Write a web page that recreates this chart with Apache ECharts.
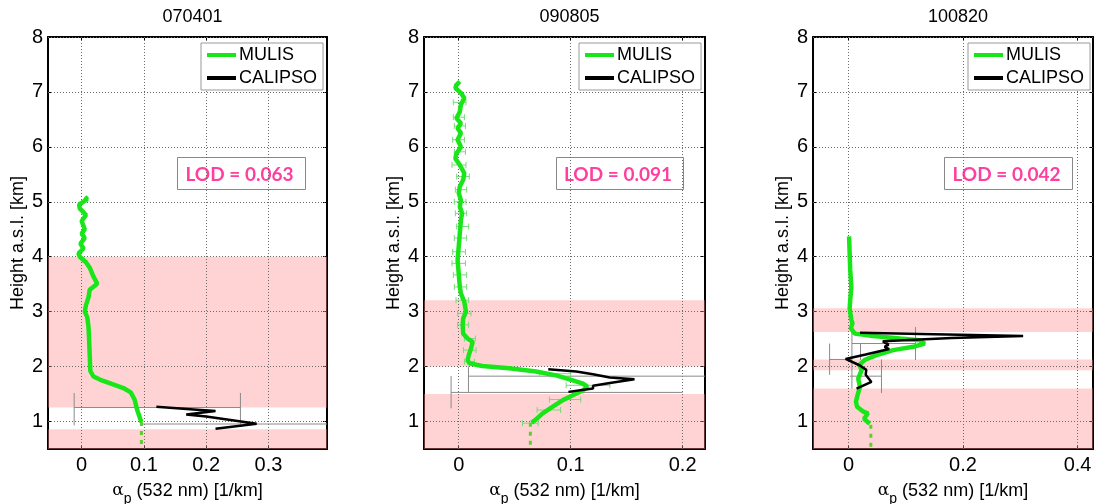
<!DOCTYPE html>
<html><head><meta charset="utf-8">
<script src="https://cdn.jsdelivr.net/npm/echarts@6/dist/echarts.min.js"></script>
<style>html,body{margin:0;padding:0;background:#fff}#c{width:1096px;height:504px}</style>
</head><body><div id="c"></div>
<script>
// ---------------- DATA ----------------
const panelTitles = ['070401', '090805', '100820'];
const lodTexts = ['LOD = 0.063', 'LOD = 0.091', 'LOD = 0.042'];
const xRanges = [[-0.054, 0.394], [-0.031, 0.22], [-0.062, 0.427]];
const xTicks = [[0, 0.1, 0.2, 0.3], [0, 0.1, 0.2], [0, 0.2, 0.4]];
const yTicks = [1, 2, 3, 4, 5, 6, 7, 8];
const yRange = [0.5, 8];

// pink layer bands [bottom, top] in km
const bands1 = [[0.5, 0.86], [1.255, 4.0]];
const bands2 = [[0.5, 1.5], [2.0, 3.21]];
const bands3 = [[0.5, 1.6], [1.935, 2.13], [2.63, 3.06]];

// MULIS profiles [alpha, height]
const mulis1 = [[0.005,5.09],[0.009,5.05],[-0.004,4.95],[-0.003,4.88],[0.007,4.76],[0.000,4.65],[0.005,4.50],[0.000,4.42],[0.005,4.34],[-0.002,4.24],[0.003,4.15],[-0.005,4.06],[-0.003,4.0],[0.007,3.90],[0.013,3.80],[0.019,3.64],[0.025,3.51],[0.013,3.40],[0.011,3.26],[0.007,3.12],[0.005,3.0],[0.009,2.90],[0.011,2.73],[0.012,2.50],[0.013,2.20],[0.014,1.92],[0.019,1.82],[0.030,1.76],[0.045,1.70],[0.067,1.61],[0.079,1.53],[0.085,1.40],[0.089,1.22],[0.094,1.05],[0.096,0.99]];
const mulis2 = [[0.001,7.19],[-0.002,7.13],[-0.003,7.07],[0.002,6.98],[0.005,6.89],[0.002,6.77],[0.001,6.64],[-0.002,6.52],[0.002,6.43],[-0.001,6.34],[0.002,6.25],[-0.001,6.13],[0.002,6.0],[-0.002,5.88],[-0.003,5.79],[0.001,5.67],[0.005,5.52],[0.004,5.40],[0.001,5.28],[0.000,5.16],[0.002,5.03],[0.001,4.91],[0.003,4.79],[0.002,4.67],[0.001,4.43],[0.000,4.18],[-0.001,3.94],[0.000,3.70],[0.001,3.45],[0.002,3.33],[0.005,3.18],[0.0065,3.0],[0.004,2.88],[0.0035,2.76],[0.004,2.60],[0.008,2.51],[0.0125,2.45],[0.011,2.33],[0.009,2.21],[0.008,2.12],[0.0095,2.06],[0.021,2.01],[0.045,1.97],[0.069,1.91],[0.087,1.84],[0.102,1.75],[0.111,1.69],[0.115,1.63],[0.111,1.57],[0.102,1.48],[0.093,1.39],[0.084,1.27],[0.075,1.15],[0.068,1.02],[0.065,0.98]];
const mulis3 = [[0.001,4.37],[0.002,4.06],[0.003,3.76],[0.005,3.45],[0.003,3.21],[0.002,3.06],[0.005,2.85],[0.007,2.79],[0.004,2.70],[0.011,2.60],[0.043,2.555],[0.090,2.51],[0.124,2.48],[0.133,2.42],[0.113,2.36],[0.078,2.30],[0.049,2.21],[0.028,2.12],[0.019,2.03],[0.023,1.94],[0.017,1.78],[0.020,1.63],[0.015,1.45],[0.013,1.36],[0.015,1.27],[0.026,1.18],[0.034,1.15],[0.027,1.05],[0.037,0.96]];

// MULIS extrapolation below lowest range (dotted)
const mulisExt1 = [[0.096, 0.99], [0.096, 0.5]];
const mulisExt2 = [[0.064, 0.98], [0.064, 0.5]];
const mulisExt3 = [[0.039, 0.94], [0.039, 0.5]];

// MULIS horizontal error bars [height, low, high] (panel 2)
const mulisErr2 = [[6.81,-0.0048,0.0065],[6.54,-0.0048,0.0051],[6.38,-0.0039,0.006],[6.13,-0.0054,0.0051],[5.91,-0.0039,0.006],[5.67,-0.006,0.0065],[5.46,-0.0018,0.0095],[5.22,-0.003,0.0071],[5.0,-0.0039,0.0065],[4.79,-0.003,0.0071],[4.55,-0.0018,0.0089],[4.34,-0.0039,0.0071],[4.09,-0.0054,0.006],[3.88,-0.006,0.006],[3.67,-0.0048,0.0071],[3.45,-0.0039,0.0071],[3.21,-0.0024,0.0089],[2.97,-0.0009,0.011],[2.76,-0.0009,0.0089],[2.51,0.0051,0.0149],[2.30,0.0042,0.0155],[2.09,0.0051,0.014],[1.87,0.072,0.100],[1.66,0.096,0.135],[1.40,0.081,0.109],[1.21,0.070,0.091],[0.97,0.057,0.071]];

// CALIPSO profiles [alpha, height]
const calipso1 = [[0.120,1.27],[0.180,1.22],[0.215,1.19],[0.168,1.13],[0.200,1.09],[0.281,0.96],[0.215,0.87]];
const calipso2 = [[0.080,1.95],[0.105,1.91],[0.120,1.86],[0.135,1.80],[0.157,1.77],[0.135,1.70],[0.120,1.65],[0.120,1.60],[0.098,1.54]];
const calipso3 = [[0.020,2.615],[0.150,2.59],[0.305,2.555],[0.180,2.52],[0.060,2.46],[0.070,2.40],[0.063,2.36],[0.071,2.32],[0.030,2.22],[-0.005,2.14],[0.020,2.02],[0.031,1.94],[0.030,1.85],[0.040,1.72],[0.014,1.60]];

// CALIPSO error bars: horizontal [height, low, high], vertical [alpha, hLow, hHigh]
const calErrH1 = [[1.255,-0.012,0.255],[0.955,0.095,0.5]];
const calErrV1 = [[-0.012,0.93,1.52],[0.255,0.93,1.52]];
const calErrH2 = [[1.826,0.0087,0.5],[1.53,-0.0068,0.2]];
const calErrV2 = [[0.0087,1.54,2.0],[-0.0068,1.24,1.83]];
const calErrH3 = [[2.42,0.006,0.117],[2.13,-0.033,0.006],[1.826,0.0023,0.0576]];
const calErrV3 = [[0.117,2.12,2.72],[0.006,1.60,2.63],[0.021,2.12,2.42],[-0.033,1.85,2.42],[0.0576,1.52,2.13]];

// ---------------- LAYOUT / STYLE ----------------
const grids = [
  {left: 48, top: 37, width: 279, height: 412},
  {left: 424, top: 37, width: 281, height: 412},
  {left: 813, top: 37, width: 280, height: 412}
];
const legendLeft = [201, 579, 968];
const lodBox = [[177, 128], [556, 127], [944, 128]];
const FONT = 'Liberation Sans, Arial, sans-serif';
const GREEN = '#19e619';
const PINK_BAND = 'rgba(255,140,140,0.38)';

const allBands = [bands1, bands2, bands3];
const allMulis = [mulis1, mulis2, mulis3];
const allExt = [mulisExt1, mulisExt2, mulisExt3];
const allCal = [calipso1, calipso2, calipso3];
const allErrH = [calErrH1, calErrH2, calErrH3];
const allErrV = [calErrV1, calErrV2, calErrV3];
const allMulisErr = [[], mulisErr2, []];

function hBarRender(color, capPx) {
  return function (params, api) {
    const h = api.value(0), lo = api.value(1), hi = api.value(2);
    const a = api.coord([lo, h]), b = api.coord([hi, h]);
    const cs = params.coordSys;
    const xmin = cs.x, xmax = cs.x + cs.width;
    const x1 = Math.max(a[0], xmin), x2 = Math.min(b[0], xmax);
    const st = {stroke: color, lineWidth: 1};
    const ch = [{type: 'line', shape: {x1: x1, y1: a[1], x2: x2, y2: a[1]}, style: st}];
    if (capPx) {
      [a[0], b[0]].forEach(function (x) {
        if (x >= xmin && x <= xmax) ch.push({type: 'line', shape: {x1: x, y1: a[1] - capPx, x2: x, y2: a[1] + capPx}, style: st});
      });
    }
    return {type: 'group', children: ch};
  };
}
function vBarRender(color) {
  return function (params, api) {
    const x = api.value(0), lo = api.value(1), hi = api.value(2);
    const a = api.coord([x, lo]), b = api.coord([x, hi]);
    return {type: 'line', shape: {x1: a[0], y1: a[1], x2: b[0], y2: b[1]}, style: {stroke: color, lineWidth: 1}};
  };
}

const option = {
  animation: false,
  backgroundColor: '#fff',
  title: [], grid: [], xAxis: [], yAxis: [], legend: [], series: [], graphic: []
};

for (let i = 0; i < 3; i++) {
  const g = grids[i];
  option.grid.push(Object.assign({containLabel: false, outerBoundsMode: 'none'}, g));
  option.title.push({
    text: panelTitles[i], left: g.left + g.width / 2, top: 3, textAlign: 'center',
    textStyle: {fontFamily: FONT, fontSize: 18, fontWeight: 'normal', color: '#000'}
  });
  const xr = xRanges[i];
  // bottom x axis
  option.xAxis.push({
    type: 'value', gridIndex: i, min: xr[0], max: xr[1], position: 'bottom',
    axisLine: {show: true, onZero: false, lineStyle: {color: '#000', width: 2}},
    axisTick: {show: true, inside: true, length: 4, customValues: xTicks[i], lineStyle: {color: '#000'}},
    axisLabel: {show: true, customValues: xTicks[i], margin: 6, fontFamily: FONT, fontSize: 20, color: '#000'},
    splitLine: {show: false},
    name: '{a|α}{s|p} (532 nm) [1/km]', nameLocation: 'middle', nameGap: 27,
    nameTextStyle: {fontFamily: FONT, fontSize: 18, color: '#000',
      rich: {a: {fontFamily: 'DejaVu Serif', fontSize: 17, color: '#000'},
             s: {fontFamily: FONT, fontSize: 14, color: '#000', padding: [16, 0, 0, 0]}}}
  });
  // top x axis (frame)
  option.xAxis.push({
    type: 'value', gridIndex: i, min: xr[0], max: xr[1], position: 'top',
    axisLine: {show: true, onZero: false, lineStyle: {color: '#000', width: 2}},
    axisTick: {show: true, inside: true, length: 4, customValues: xTicks[i], lineStyle: {color: '#000'}},
    axisLabel: {show: false}, splitLine: {show: false}
  });
  option.yAxis.push({
    type: 'value', gridIndex: i, min: yRange[0], max: yRange[1], position: 'left',
    axisLine: {show: true, onZero: false, lineStyle: {color: '#000', width: 2}},
    axisTick: {show: true, inside: true, length: 4, customValues: yTicks, lineStyle: {color: '#000'}},
    axisLabel: {show: true, customValues: yTicks, margin: 5, fontFamily: FONT, fontSize: 20, color: '#000'},
    splitLine: {show: false},
    name: 'Height a.s.l. [km]', nameLocation: 'middle', nameRotate: 90, nameGap: 21,
    nameTextStyle: {fontFamily: FONT, fontSize: 18, color: '#000'}
  });
  option.yAxis.push({
    type: 'value', gridIndex: i, min: yRange[0], max: yRange[1], position: 'right',
    axisLine: {show: true, onZero: false, lineStyle: {color: '#000', width: 2}},
    axisTick: {show: true, inside: true, length: 4, customValues: yTicks, lineStyle: {color: '#000'}},
    axisLabel: {show: false}, splitLine: {show: false}
  });
  const xi = i * 2, yi = i * 2;
  option.legend.push({
    left: legendLeft[i], top: 43, orient: 'vertical',
    data: [{name: 'MULIS', icon: 'rect'}, {name: 'CALIPSO', icon: 'rect'}],
    itemWidth: 29, itemHeight: 4, itemGap: 5, padding: [3, 6, 3, 6],
    borderColor: '#999', borderWidth: 1, backgroundColor: '#fff', selectedMode: false,
    textStyle: {fontFamily: FONT, fontSize: 18, color: '#000', padding: [0, 0, 0, -2]}
  });
  // background bands + grid lines
  option.series.push({
    type: 'line', name: 'bands' + i, xAxisIndex: xi, yAxisIndex: yi, data: [], z: 1, silent: true,
    markArea: {silent: true, z: 1, itemStyle: {color: PINK_BAND},
      data: allBands[i].map(function (b) { return [{yAxis: b[0]}, {yAxis: b[1]}]; })},
    markLine: {silent: true, z: 1, symbol: ['none', 'none'], label: {show: false}, animation: false,
      lineStyle: {type: [1, 2], color: '#6a6a6a', width: 1},
      data: xTicks[i].map(function (v) { return {xAxis: v}; }).concat(yTicks.map(function (v) { return {yAxis: v}; }))}
  });
  // CALIPSO error bars
  option.series.push({
    type: 'custom', name: 'calErrH' + i, xAxisIndex: xi, yAxisIndex: yi, z: 2, silent: true,
    renderItem: hBarRender('#8a8a8a', 0), encode: {x: [1, 2], y: 0}, data: allErrH[i]
  });
  option.series.push({
    type: 'custom', name: 'calErrV' + i, xAxisIndex: xi, yAxisIndex: yi, z: 2, silent: true,
    renderItem: vBarRender('#8a8a8a'), encode: {x: 0, y: [1, 2]}, data: allErrV[i]
  });
  if (allMulisErr[i].length) {
    option.series.push({
      type: 'custom', name: 'mulisErr' + i, xAxisIndex: xi, yAxisIndex: yi, z: 3, silent: true,
      renderItem: hBarRender('#78da78', 3), encode: {x: [1, 2], y: 0}, data: allMulisErr[i]
    });
  }
  option.series.push({
    type: 'line', name: 'mulisExt' + i, xAxisIndex: xi, yAxisIndex: yi, z: 3, silent: true,
    data: allExt[i], symbol: 'none', lineStyle: {color: '#5ccf2e', width: 3, type: [4, 5]}
  });
  option.series.push({
    type: 'line', name: 'MULIS', xAxisIndex: xi, yAxisIndex: yi, z: 4, silent: true,
    data: allMulis[i], symbol: 'none', color: GREEN, lineStyle: {color: GREEN, width: 4.5}
  });
  option.series.push({
    type: 'line', name: 'CALIPSO', xAxisIndex: xi, yAxisIndex: yi, z: 5, silent: true,
    data: allCal[i], symbol: 'none', color: '#000', lineStyle: {color: '#000', width: 2.5}
  });
  // LOD annotation box
  const lb = lodBox[i];
  option.graphic.push({
    type: 'group', left: lb[0], top: 157, z: 100,
    children: [
      {type: 'rect', shape: {x: 0, y: 0, width: lb[1], height: 32}, style: {fill: '#fff', stroke: '#888', lineWidth: 1}},
      {type: 'text', x: lb[1] / 2 - 2, y: 17, style: {text: lodTexts[i], align: 'center', verticalAlign: 'middle',
        font: 'bold 19px Lato, "Open Sans", sans-serif', fill: '#ff3fa0'}}
    ]
  });
}

const chart = echarts.init(document.getElementById('c'), null, {renderer: 'canvas'});
chart.setOption(option);
</script>
</body></html>
